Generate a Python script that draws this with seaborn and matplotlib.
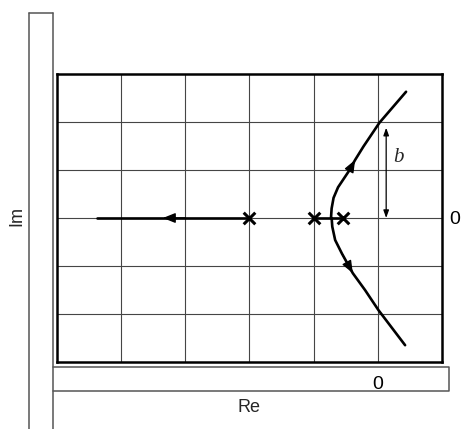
import matplotlib
matplotlib.use("Agg")
import matplotlib.pyplot as plt
from matplotlib.lines import Line2D
import seaborn as sns
import pandas as pd

# ---- data ----
pole_re = [-2.0, -1.0, -0.54]
pole_im = [0.0, 0.0, 0.0]

real_branch_re = [-2.0, -4.37]
real_branch_im = [0.0, 0.0]

segment_re = [-1.0, -0.54]
segment_im = [0.0, 0.0]

upper_re = [-0.73, -0.72, -0.69, -0.62, -0.545, -0.44, -0.354, -0.224, 0.025, 0.44]
upper_im = [0.0, 0.2, 0.42, 0.64, 0.79, 1.0, 1.21, 1.49, 1.985, 2.63]

lower_re = [-0.72, -0.71, -0.665, -0.56, -0.39, -0.2, 0.01, 0.425]
lower_im = [0.0, -0.18, -0.46, -0.74, -1.15, -1.5, -1.92, -2.65]

left_arrow_re = [-3.0, -3.35]      # tail, tip
b_arrow_re = 0.13
b_arrow_im = [0.0, 1.88]
b_label = "b"

x_gridlines = [-4, -3, -2, -1, 0]
y_gridlines = [-2, -1, 0, 1, 2]
x_ticklabels = ["", "", "", "", "0"]
y_ticklabels = ["", "", "0", "", ""]

# ---- figure ----
sns.set_style("white")
plt.rcParams["font.family"] = ["Liberation Sans", "DejaVu Sans"]

W, H = 464, 429
fig = plt.figure(figsize=(W / 100, H / 100), dpi=100)

def fx(px):
    return px / W

def fy(py):
    return 1 - py / H

L, R, T, B = 57, 442, 74, 362
ax = fig.add_axes([fx(L), fy(B), fx(R - L), (B - T) / H])
ax.set_xlim(-5, 1)
ax.set_ylim(-3, 3)

# grid
ax.set_xticks(x_gridlines)
ax.set_xticklabels(x_ticklabels)
ax.set_yticks(y_gridlines)
ax.set_yticklabels(y_ticklabels)
ax.yaxis.tick_right()
ax.tick_params(axis="both", length=0, labelsize=14, colors="black")
ax.tick_params(axis="x", pad=10)
ax.tick_params(axis="y", pad=5)
ax.grid(True, color="#454545", lw=0.8)
for s in ax.spines.values():
    s.set_visible(True)
    s.set_color("black")
    s.set_linewidth(1.8)

lw = 1.9
df_up = pd.DataFrame({"re": upper_re, "im": upper_im})
df_lo = pd.DataFrame({"re": lower_re, "im": lower_im})
df_rb = pd.DataFrame({"re": real_branch_re, "im": real_branch_im})
df_sg = pd.DataFrame({"re": segment_re, "im": segment_im})
for d in (df_up, df_lo, df_rb, df_sg):
    sns.lineplot(data=d, x="re", y="im", sort=False, color="black",
                 lw=lw, ax=ax, estimator=None)

# poles
sns.scatterplot(x=pole_re, y=pole_im, marker="x", s=70, color="black",
                linewidth=2.2, ax=ax, zorder=5)

# direction arrows
arrow_kw = dict(arrowstyle="-|>,head_length=0.5,head_width=0.2", color="black",
                lw=1, mutation_scale=15, shrinkA=0, shrinkB=0)
ax.annotate("", xy=(upper_re[6], upper_im[6]), xytext=(upper_re[5], upper_im[5]),
            arrowprops=arrow_kw)
ax.annotate("", xy=(lower_re[4], lower_im[4]), xytext=(lower_re[3], lower_im[3]),
            arrowprops=arrow_kw)
ax.annotate("", xy=(left_arrow_re[1], 0), xytext=(left_arrow_re[0], 0),
            arrowprops=arrow_kw)

# b dimension arrow
ax.annotate("", xy=(b_arrow_re, b_arrow_im[1]), xytext=(b_arrow_re, b_arrow_im[0]),
            arrowprops=dict(arrowstyle="<|-|>,head_length=0.5,head_width=0.18",
                            color="black", lw=0.9,
                            mutation_scale=9, shrinkA=0, shrinkB=0))
ax.text(b_arrow_re + 0.19, 1.27, b_label, fontsize=15, style="italic",
        family="Liberation Serif", ha="center", va="center")

ax.set_xlabel("")
ax.set_ylabel("")

# outer frames (strips)
frame_c = "#555555"
fig.add_artist(Line2D([fx(29), fx(29)], [fy(13), fy(429)], color=frame_c, lw=1.1))
fig.add_artist(Line2D([fx(53), fx(53)], [fy(13), fy(429)], color=frame_c, lw=1.1))
fig.add_artist(Line2D([fx(29), fx(53)], [fy(13), fy(13)], color=frame_c, lw=1.1))
fig.add_artist(Line2D([fx(53), fx(449), fx(449), fx(53)],
                      [fy(367), fy(367), fy(391), fy(391)], color=frame_c, lw=1.1))

fig.text(fx(17), fy(216), "Im", rotation=90, fontsize=13, ha="center", va="center")
fig.text(fx(249), fy(407), "Re", fontsize=13, ha="center", va="center")

fig.savefig("out.png", dpi=100)
